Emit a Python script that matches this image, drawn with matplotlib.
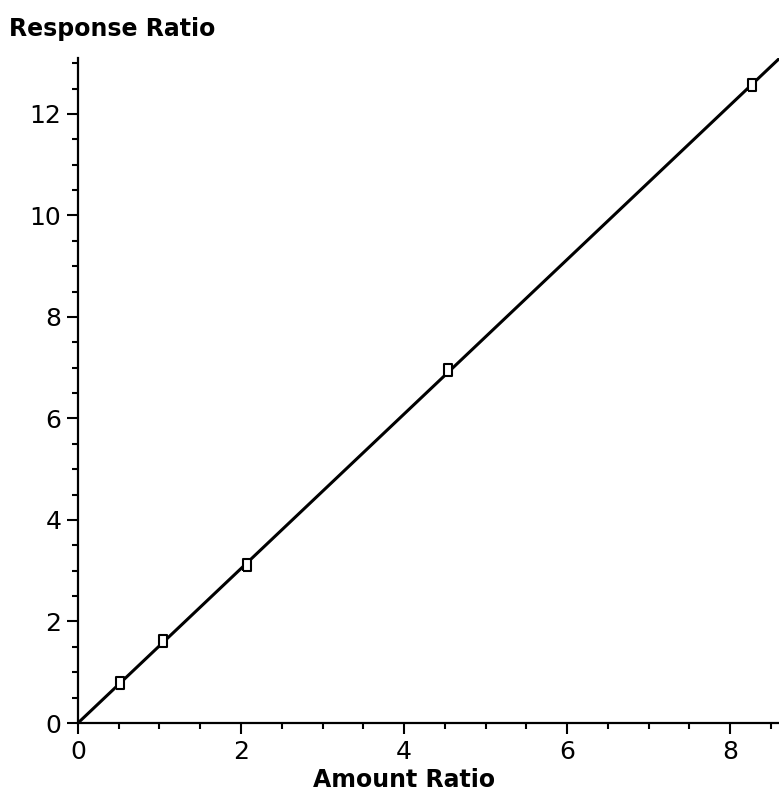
import numpy as np
from matplotlib import pyplot as plt
from matplotlib.ticker import MultipleLocator

# calibration points
amount_ratio = [0.52, 1.04, 2.07, 4.54, 8.27]
response_ratio = [0.78, 1.61, 3.12, 6.96, 12.56]

x = np.array(amount_ratio)
y = np.array(response_ratio)
slope = np.sum(x * y) / np.sum(x * x)  # linear fit through origin

# narrow, tall open rectangle like the original markers
rect = [(-0.33, -0.5), (0.33, -0.5), (0.33, 0.5), (-0.33, 0.5), (-0.33, -0.5)]

fig = plt.figure(figsize=(7.79, 7.92), dpi=100)
ax = fig.add_axes([0.1001, 0.0871, 0.8999, 0.8396])

xs = np.array([0, 8.6])
ax.plot(xs, slope * xs, color='black', linewidth=2.2, zorder=2)
ax.plot(x, y, linestyle='none', marker=rect, markersize=8,
        markerfacecolor='white', markeredgecolor='black', markeredgewidth=1.5, zorder=3)

ax.set_xlim(0, 8.6)
ax.set_ylim(0, 13.1)
ax.xaxis.set_major_locator(MultipleLocator(2))
ax.xaxis.set_minor_locator(MultipleLocator(0.5))
ax.yaxis.set_major_locator(MultipleLocator(2))
ax.yaxis.set_minor_locator(MultipleLocator(0.5))

for side in ['top', 'right']:
    ax.spines[side].set_visible(False)
for side in ['left', 'bottom']:
    ax.spines[side].set_linewidth(1.6)

ax.tick_params(which='major', length=8, width=1.5, labelsize=18)
ax.tick_params(which='minor', length=4.5, width=1.5)
ax.tick_params(axis='x', which='major', pad=4)
ax.tick_params(axis='y', which='major', pad=4)

fig.text(404 / 779, 1 - 780 / 792, 'Amount Ratio', fontsize=17, fontweight='bold', ha='center', va='center')
fig.text(0.012, 0.963, 'Response Ratio', fontsize=17, fontweight='bold', ha='left', va='center')

fig.savefig('out.png', dpi=100)
